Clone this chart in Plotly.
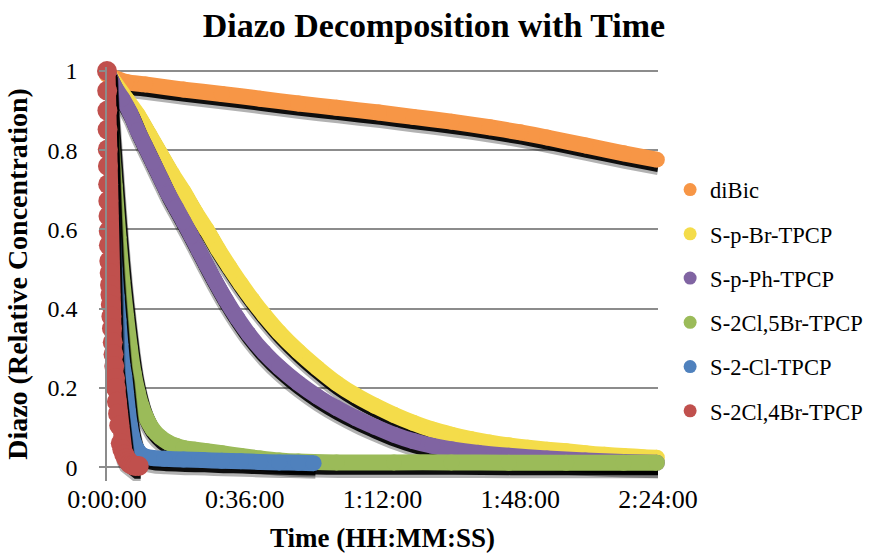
import plotly.graph_objects as go

# Elapsed time in minutes; axis labels are shown as H:MM:SS
time_ticks = [0, 36, 72, 108, 144]
time_labels = ["0:00:00", "0:36:00", "1:12:00", "1:48:00", "2:24:00"]

# diBic
dibic_t = [0, 5, 10, 20, 30, 40, 50, 60, 71, 80, 90, 100, 108, 115, 125, 135, 143.7]
dibic_c = [0.99, 0.972, 0.966, 0.953, 0.942, 0.93, 0.918, 0.907, 0.895, 0.884,
           0.872, 0.858, 0.845, 0.832, 0.812, 0.792, 0.776]

# S-p-Br-TPCP
pbr_t = [0, 2, 5, 8, 11, 14, 17, 20, 23, 26, 29, 32, 35, 38, 41, 45, 50, 55, 60,
         65, 70, 75, 80, 85, 90, 95, 100, 105, 110, 115, 120, 125, 130, 135, 140, 143.7]
pbr_c = [1.0, 0.97, 0.93, 0.89, 0.84, 0.79, 0.74, 0.695, 0.645, 0.60, 0.55, 0.505,
         0.462, 0.422, 0.385, 0.34, 0.292, 0.25, 0.212, 0.181, 0.155, 0.132, 0.112,
         0.095, 0.082, 0.071, 0.062, 0.055, 0.049, 0.044, 0.040, 0.035, 0.031,
         0.028, 0.025, 0.024]

# S-p-Ph-TPCP
pph_t = [0, 2, 4, 6, 8, 10, 12, 14, 16, 18, 20, 22, 24, 26, 28, 31, 34, 37, 41, 45,
         50, 55, 60, 65, 70, 75, 80, 85, 90, 97, 105, 115, 125, 135, 143.7]
pph_c = [1.0, 0.96, 0.93, 0.895, 0.85, 0.81, 0.77, 0.73, 0.69, 0.655, 0.62, 0.584,
         0.547, 0.51, 0.474, 0.423, 0.377, 0.336, 0.29, 0.252, 0.212, 0.178, 0.149,
         0.124, 0.102, 0.082, 0.066, 0.054, 0.045, 0.036, 0.029, 0.022, 0.017, 0.013, 0.011]

# S-2Cl,5Br-TPCP
cl5br_t = [0, 1, 2, 3, 4, 5, 6, 7, 8, 9, 10, 12, 14, 16, 18, 20, 23, 26, 30, 35, 40,
           45, 50, 60, 75, 90, 105, 120, 135, 143.7]
cl5br_c = [1.0, 0.85, 0.71, 0.58, 0.47, 0.38, 0.30, 0.235, 0.19, 0.155, 0.13, 0.095,
           0.075, 0.062, 0.054, 0.048, 0.044, 0.04, 0.035, 0.028, 0.022, 0.017, 0.014,
           0.012, 0.012, 0.012, 0.011, 0.011, 0.011, 0.011]

# S-2-Cl-TPCP
cl_t = [0, 0.5, 1, 1.5, 2, 2.5, 3, 3.5, 4, 4.5, 5, 5.5, 6, 6.5, 7, 8, 9, 10, 12, 15,
        20, 25, 30, 35, 40, 45, 50, 54]
cl_c = [1.0, 0.85, 0.72, 0.6, 0.5, 0.43, 0.37, 0.31, 0.26, 0.23, 0.185, 0.14, 0.105,
        0.08, 0.062, 0.043, 0.032, 0.027, 0.023, 0.021, 0.019, 0.018, 0.016, 0.015,
        0.013, 0.012, 0.011, 0.010]

# S-2Cl,4Br-TPCP
cl4br_t = [0, 0.05, 0.1, 0.15, 0.2, 0.25, 0.3, 0.35, 0.4, 0.45, 0.5, 0.6, 0.7, 0.8,
           0.9, 1.0, 1.15, 1.3, 1.5, 1.7, 1.9, 2.1, 2.3, 2.6, 2.9, 3.2, 3.6, 4.0, 4.5,
           5.0, 5.5, 6.0, 6.5, 7.0, 7.5, 8.3]
cl4br_c = [1.0, 0.95, 0.90, 0.852, 0.802, 0.76, 0.714, 0.672, 0.634, 0.596, 0.56,
           0.52, 0.49, 0.46, 0.435, 0.41, 0.38, 0.35, 0.315, 0.285, 0.255, 0.225, 0.2,
           0.165, 0.135, 0.105, 0.06, 0.045, 0.032, 0.022, 0.015, 0.009, 0.006, 0.004,
           0.003, 0.003]

series_names = ["diBic", "S-p-Br-TPCP", "S-p-Ph-TPCP", "S-2Cl,5Br-TPCP",
                "S-2-Cl-TPCP", "S-2Cl,4Br-TPCP"]
series_colors = ["#F79646", "#F4DC4A", "#8064A2", "#9BBB59", "#4F81BD", "#C0504D"]
series_data = [(dibic_t, dibic_c), (pbr_t, pbr_c), (pph_t, pph_c),
               (cl5br_t, cl5br_c), (cl_t, cl_c), (cl4br_t, cl4br_c)]

SERIF = "Liberation Serif, Times New Roman, serif"
SHADOW_DX = 0.5     # minutes
SHADOW_DY = 0.011   # concentration units

fig = go.Figure()

for name, color, (ts, cs) in zip(series_names, series_colors, series_data):
    big = name == "S-2Cl,4Br-TPCP"
    width = 17 if big else 16
    msize = 20 if big else 16
    shape = "linear" if big else "spline"
    sx = [t + SHADOW_DX for t in ts]
    sy = [c - SHADOW_DY for c in cs]
    hx = [t + SHADOW_DX for t in ts]
    hy = [c - 1.5 * SHADOW_DY for c in cs]
    # soft lower fringe of the drop shadow
    fig.add_trace(go.Scatter(x=hx, y=hy, mode="lines", showlegend=False, hoverinfo="skip",
                             line=dict(color="rgba(0,0,0,0.3)", width=width + 2,
                                       shape=shape, smoothing=0.7)))
    fig.add_trace(go.Scatter(x=sx, y=sy, mode="lines", showlegend=False, hoverinfo="skip",
                             line=dict(color="rgba(0,0,0,0.92)", width=width,
                                       shape=shape, smoothing=0.7)))
    fig.add_trace(go.Scatter(x=ts, y=cs, mode="lines+markers", showlegend=False,
                             name=name, cliponaxis=False,
                             line=dict(color=color, width=width, shape=shape, smoothing=0.7),
                             marker=dict(color=color, size=msize, line=dict(width=0))))
    # legend entry: plain dot
    fig.add_trace(go.Scatter(x=[None], y=[None], mode="markers", name=name,
                             legendgroup=name,
                             marker=dict(color=color, size=13, line=dict(width=0))))

fig.update_layout(
    width=873, height=553,
    margin=dict(l=107, r=215, t=67, b=72, autoexpand=False),
    paper_bgcolor="white", plot_bgcolor="white",
    font=dict(family=SERIF, color="black"),
    title=dict(text="<b>Diazo Decomposition with Time</b>",
               font=dict(family=SERIF, size=34, color="black"),
               x=0.497, xanchor="center", y=0.955, yanchor="middle"),
    legend=dict(x=1.022, xanchor="left", y=0.755, yanchor="top",
                font=dict(family=SERIF, size=22.5, color="black"),
                tracegroupgap=12, itemwidth=30, bgcolor="rgba(0,0,0,0)"),
    showlegend=True,
)

fig.update_xaxes(
    range=[0, 144], tickvals=time_ticks, ticktext=time_labels, automargin=False,
    showgrid=False, zeroline=False, showline=False, ticks="",
    tickfont=dict(family=SERIF, size=26, color="black"),
    title=dict(text="<b>Time (HH:MM:SS)</b>", standoff=17,
               font=dict(family=SERIF, size=27, color="black")),
)

fig.update_yaxes(
    range=[-0.035, 1.01], tick0=0, dtick=0.2, automargin=False,
    showgrid=True, gridcolor="#8C8C8C", gridwidth=1.6,
    zeroline=False, showline=True, linecolor="#8C8C8C", linewidth=1.6,
    ticks="outside", ticklen=6, tickcolor="#8C8C8C", tickwidth=1.6,
    ticklabelstandoff=17,
    tickfont=dict(family=SERIF, size=24, color="black"),
    title=dict(text="<b>Diazo (Relative Concentration)</b>", standoff=12,
               font=dict(family=SERIF, size=28, color="black")),
)

fig.write_html("out.html")
